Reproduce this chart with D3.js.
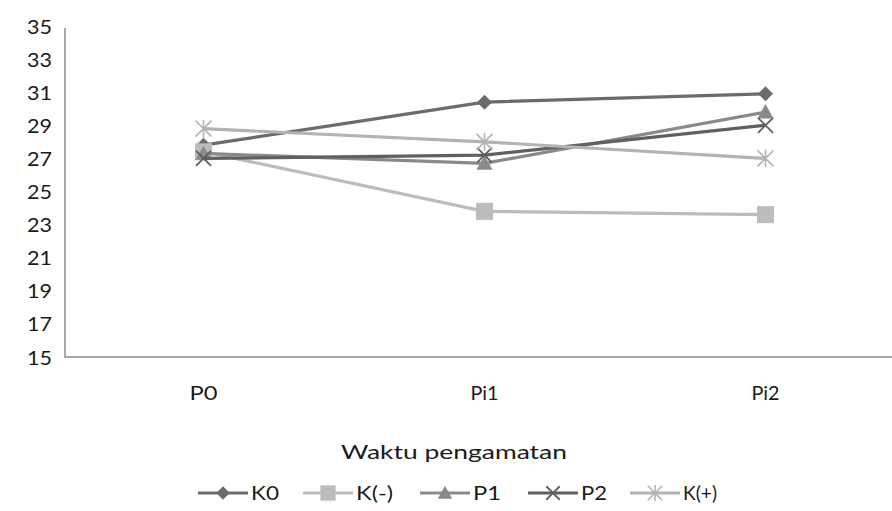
<!DOCTYPE html>
<html><head><meta charset="utf-8">
<script src="https://cdn.jsdelivr.net/npm/d3@7"></script>
<style>body{margin:0;background:#fff}svg{display:block}text{font-family:Lato,"Open Sans",sans-serif;fill:#1a1a1a}</style>
</head><body><svg id="c" width="892" height="511"></svg>
<script>
const categories = ["P0","Pi1","Pi2"];
const seriesNames = ["K0","K(-)","P1","P2","K(+)"];
const K0 = [27.8, 30.4, 30.9];
const Kneg = [27.4, 23.8, 23.6];
const P1 = [27.3, 26.7, 29.8];
const P2 = [27.0, 27.2, 29.0];
const Kpos = [28.8, 28.0, 27.0];
const yTicks = [15,17,19,21,23,25,27,29,31,33,35];
const xTitle = "Waktu pengamatan";

const series = [
  {name:"K0", values:K0, color:"#6b6b6b", sym:"diamond"},
  {name:"K(-)", values:Kneg, color:"#bcbcbc", sym:"square"},
  {name:"P1", values:P1, color:"#8a8a8a", sym:"triangle"},
  {name:"P2", values:P2, color:"#606060", sym:"x"},
  {name:"K(+)", values:Kpos, color:"#b3b3b3", sym:"star"}
];

const svg = d3.select("#c");
const x = d3.scaleBand().domain(categories).range([63, 906]);
const y = d3.scaleLinear().domain([15,35]).range([357, 26]);

// axes
const yAxis = svg.append("g").attr("transform","translate(65,0)")
  .call(d3.axisLeft(y).tickValues(yTicks).tickSize(0).tickPadding(12));
yAxis.select(".domain").attr("stroke","#a8a8a8").attr("stroke-width",2).attr("d","M0,"+(y(35)+2)+"V"+(y(15)));
yAxis.selectAll("text").style("font-size","20px").attr("textLength",25).attr("lengthAdjust","spacingAndGlyphs").attr("x",-13).attr("dy","0.35em");

const xAxis = svg.append("g").attr("transform","translate(0,357)")
  .call(d3.axisBottom(x).tickSize(0).tickPadding(29));
xAxis.select(".domain").attr("stroke","#a8a8a8").attr("stroke-width",2).attr("d","M64,0H892");
xAxis.selectAll("text").style("font-size","20px").attr("textLength",28).attr("lengthAdjust","spacingAndGlyphs");

svg.append("text").attr("x",454).attr("y",459).attr("text-anchor","middle")
  .style("font-size","20px").attr("textLength",226).attr("lengthAdjust","spacingAndGlyphs").text(xTitle);

function marker(g, sym, color, size){
  const s = size;
  if(sym==="diamond"){
    g.append("path").attr("d",`M0,${-s}L${s},0L0,${s}L${-s},0Z`).attr("fill",color);
  } else if(sym==="square"){
    g.append("rect").attr("x",-s).attr("y",-s).attr("width",2*s).attr("height",2*s).attr("fill",color);
  } else if(sym==="triangle"){
    g.append("path").attr("d",`M0,${-s}L${s},${s*0.8}L${-s},${s*0.8}Z`).attr("fill",color);
  } else if(sym==="x"){
    g.append("path").attr("d",`M${-s},${-s}L${s},${s}M${-s},${s}L${s},${-s}`).attr("stroke",color).attr("stroke-width",1.8).attr("fill","none");
  } else if(sym==="star"){
    g.append("path").attr("d",`M${-s},${-s}L${s},${s}M${-s},${s}L${s},${-s}M0,${-s*1.1}V${s*1.1}`).attr("stroke",color).attr("stroke-width",1.6).attr("fill","none");
  }
}

const cx = c => x(c) + x.bandwidth()/2;
const line = d3.line().x((d,i)=>cx(categories[i])).y(d=>y(d));
const sizes = {diamond:7.5, square:8.5, triangle:8, x:7.5, star:8};

series.forEach(s=>{
  svg.append("path").datum(s.values).attr("d",line).attr("fill","none")
    .attr("stroke",s.color).attr("stroke-width",3.2);
  s.values.forEach((v,i)=>{
    const g = svg.append("g").attr("transform",`translate(${cx(categories[i])},${y(v)})`);
    marker(g, s.sym, s.color, sizes[s.sym]);
  });
});

// legend
const legendX = [198, 303, 420, 528, 630];
const legendW = [28, 37, 28, 26, 34];
const ly = 493;
series.forEach((s,i)=>{
  const g = svg.append("g").attr("transform",`translate(${legendX[i]},${ly})`);
  g.append("line").attr("x1",0).attr("x2",50).attr("stroke",s.color).attr("stroke-width",3.2);
  const m = g.append("g").attr("transform","translate(25,0)");
  marker(m, s.sym, s.color, sizes[s.sym]*0.9);
  g.append("text").attr("x",53).attr("y",0).attr("dy","0.35em").style("font-size","20px")
    .attr("textLength",legendW[i]).attr("lengthAdjust","spacingAndGlyphs").text(s.name);
});
</script></body></html>
